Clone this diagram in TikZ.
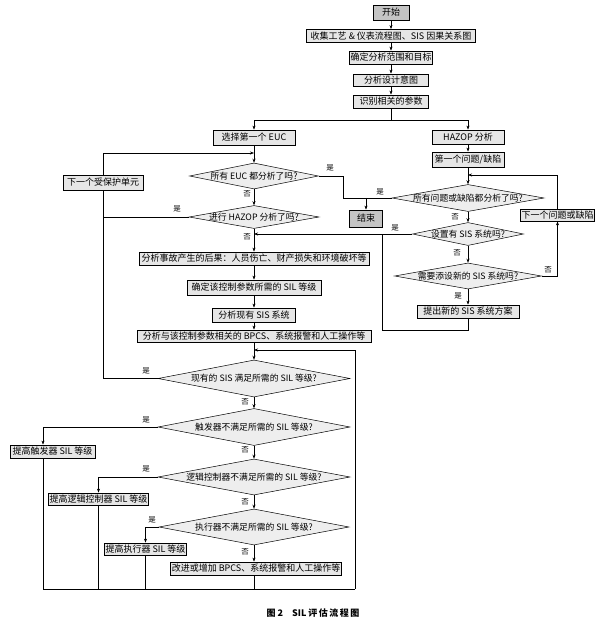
\documentclass[tikz,border=0pt]{standalone}
\usepackage{fontspec}
\setmainfont{Noto Sans CJK SC}
\usetikzlibrary{shapes.geometric, arrows.meta}
\definecolor{boxgray}{RGB}{230, 230, 230}
\definecolor{termgray}{RGB}{196, 196, 196}
\definecolor{diagray}{RGB}{238, 238, 238}

\tikzset{
  procbox/.style={draw, line width=0.8pt, fill=boxgray, inner sep=1pt, font=\fontsize{9}{10}\selectfont},
  termbox/.style={procbox, fill=termgray},
  decision/.style n args={3}{draw, diamond, line width=0.5pt, fill=diagray, inner sep=-1pt,
    minimum width=#1, minimum height=#2, aspect=#3, font=\fontsize{8.8}{10}\selectfont},
  flow/.style={-{Stealth[length=4pt, width=3pt]}, line width=0.5pt},
  link/.style={line width=0.5pt},
  yn/.style={font=\fontsize{7.5}{8}\selectfont, inner sep=0.5pt},
}

\begin{document}
\begin{tikzpicture}[x=1pt, y=-1pt]
    \useasboundingbox (0,0) rectangle (600,636);
    % Preparation
    \node[termbox, minimum width=36,  minimum height=15] (start)   at (391, 12.5) {开始};
    \node[procbox, minimum width=169, minimum height=13] (collect) at (391, 36.0) {收集工艺 \& 仪表流程图、SIS 因果关系图};
    \node[procbox, minimum width=83,  minimum height=13] (scope)   at (391, 57.5) {确定分析范围和目标};
    \node[procbox, minimum width=75,  minimum height=12] (intent)  at (391, 80.0) {分析设计意图};
    \node[procbox, minimum width=75,  minimum height=13] (param)   at (391,101.5) {识别相关的参数};
    % EUC column
    \node[procbox, minimum width=82,  minimum height=15] (euc1)    at (254,137.5) {选择第一个 EUC};
    \node[decision={129}{26}{4.96}]                     (alleuc)  at (254,176.0) {所有 EUC 都分析了吗?};
    \node[decision={130}{23}{5.65}]                     (dohaz)   at (254,217.0) {进行 HAZOP 分析了吗?};
    \node[procbox, minimum width=80,  minimum height=15] (nextunit) at (103,182.5) {下一个受保护单元};
    \node[termbox, minimum width=33,  minimum height=17] (end)     at (366,218.5) {结束};
    % HAZOP column
    \node[procbox, minimum width=72,  minimum height=14] (hazop)   at (468,137.0) {HAZOP 分析};
    \node[procbox, minimum width=72,  minimum height=15] (first)   at (468,159.5) {第一个问题/缺陷};
    \node[decision={152}{27}{5.63}]                     (allq)    at (468,198.0) {所有问题或缺陷都分析了吗?};
    \node[procbox, minimum width=71,  minimum height=12] (nextq)   at (557.5,215.0) {下一个问题或缺陷};
    \node[decision={111}{23}{4.83}]                     (hassis)  at (468,234.0) {设置有 SIS 系统吗?};
    \node[decision={147}{26}{5.65}]                     (needsis) at (468,276.0) {需要添设新的 SIS 系统吗?};
    \node[procbox, minimum width=102, minimum height=13] (newsis)  at (468,311.5) {提出新的 SIS 系统方案};
    % Consequence analysis
    \node[procbox, minimum width=230, minimum height=13] (conseq)  at (254,258.5) {分析事故产生的后果：人员伤亡、财产损失和环境破坏等};
    \node[procbox, minimum width=134, minimum height=15] (silreq)  at (254,287.5) {确定该控制参数所需的 SIL 等级};
    \node[procbox, minimum width=83,  minimum height=14] (exist)   at (254,315.0) {分析现有 SIS 系统};
    \node[procbox, minimum width=234, minimum height=12] (bpcs)    at (254,336.0) {分析与该控制参数相关的 BPCS、系统报警和人工操作等};
    % SIL checks
    \node[decision={192}{37}{5.19}]                     (meet)    at (254,378.5) {现有的 SIS 满足所需的 SIL 等级?};
    \node[decision={192}{37}{5.19}]                     (sensor)  at (254,427.0) {触发器不满足所需的 SIL 等级?};
    \node[decision={192}{36}{5.33}]                     (logic)   at (254,477.0) {逻辑控制器不满足所需的 SIL 等级?};
    \node[decision={190}{36}{5.28}]                     (actuator) at (254,527.0) {执行器不满足所需的 SIL 等级?};
    \node[procbox, minimum width=169, minimum height=13] (improve) at (256,568.5) {改进或增加 BPCS、系统报警和人工操作等};
    \node[procbox, minimum width=85,  minimum height=13] (r1)      at (52.5,451.5) {提高触发器 SIL 等级};
    \node[procbox, minimum width=99,  minimum height=12] (r2)      at (98.5,499.0) {提高逻辑控制器 SIL 等级};
    \node[procbox, minimum width=81,  minimum height=12] (r3)      at (145.5,549.0) {提高执行器 SIL 等级};
    % Junctions
    \coordinate (split)   at (391,120);
    \coordinate (eucin)   at (254,153);
    \coordinate (qin)     at (468,175);
    \coordinate (eucyes)  at (343,198);
    \coordinate (endtop)  at (366,198);
    \coordinate (sisback) at (382,330);
    \coordinate (loopin)  at (254,350);
    \coordinate (loopbl)  at (254,589);
    \coordinate (loopbr)  at (355,589);
    % Top chain
    \draw[flow] (start) -- (collect);
    \draw[flow] (collect) -- (scope);
    \draw[flow] (scope) -- (intent);
    \draw[flow] (intent) -- (param);
    \draw[link] (param) -- (split);
    \draw[flow] (split) -| (euc1);
    \draw[flow] (split) -| (hazop);
    % EUC loop
    \draw[flow] (euc1) -- (alleuc);
    \draw[flow] (alleuc) -- (dohaz);
    \draw[link] (alleuc.east) -| (eucyes) -- (endtop);
    \draw[link] (allq.west) -- (endtop);
    \draw[flow] (endtop) -- (end);
    \draw[link] (dohaz.west) -- (dohaz.west -| nextunit.south);
    \draw[link] (meet.west) -| (nextunit.south);
    \draw[flow] (nextunit.north) |- (eucin);
    \draw[flow] (dohaz) -- (conseq);
    % HAZOP loop
    \draw[flow] (hazop) -- (first);
    \draw[flow] (first) -- (allq);
    \draw[flow] (nextq.north) |- (qin);
    \draw[flow] (allq) -- (hassis);
    \draw[flow] (hassis) -- (needsis);
    \draw[flow] (needsis.east) -| (nextq.south);
    \draw[flow] (needsis) -- (newsis);
    \draw[flow] (hassis.west) -- (hassis.west -| dohaz.south);
    \draw[link] (newsis) |- (sisback) -- (sisback |- hassis.west);
    % Consequence chain
    \draw[flow] (conseq) -- (silreq);
    \draw[flow] (silreq) -- (exist);
    \draw[flow] (exist) -- (bpcs);
    \draw[flow] (bpcs) -- (meet);
    % SIL checks
    \draw[flow] (meet) -- (sensor);
    \draw[flow] (sensor) -- (logic);
    \draw[flow] (logic) -- (actuator);
    \draw[flow] (actuator) -- (actuator.south |- improve.north);
    \draw[flow] (sensor.west) -| ([xshift=-9.5pt]r1.north);
    \draw[flow] (logic.west) -| (r2.north);
    \draw[flow] (actuator.west) -| (r3.north);
    \draw[link] ([xshift=-9.5pt]r1.south) |- (loopbr);
    \draw[link] (r2.south) -- (r2.south |- loopbl);
    \draw[link] (r3.south) -- (r3.south |- loopbl);
    \draw[link] (improve.south -| loopbl) -- (loopbl);
    \draw[flow] (loopbr) -- (loopbr |- loopin) -- (loopin);
    % Yes / no labels
    \node[yn] (n1)  at (247,194) {否};
    \node[yn] (y1)  at (330,168) {是};
    \node[yn] (y2)  at (380,192) {是};
    \node[yn] (y3)  at (177,209) {是};
    \node[yn] (n2)  at (247,237) {否};
    \node[yn] (y4)  at (395,228) {是};
    \node[yn] (n3)  at (455,217) {否};
    \node[yn] (n4)  at (457,253) {否};
    \node[yn] (n5)  at (548,270) {否};
    \node[yn] (y5)  at (458,296) {是};
    \node[yn] (y6)  at (146,371) {是};
    \node[yn] (n6)  at (245,402) {否};
    \node[yn] (y7)  at (146,420) {是};
    \node[yn] (n7)  at (245,450) {否};
    \node[yn] (y8)  at (146,469) {是};
    \node[yn] (n8)  at (245,502) {否};
    \node[yn] (y9)  at (152,520) {是};
    \node[yn] (n9)  at (245,552) {否};
    % Caption
    \node[font=\bfseries\fontsize{9}{10}\selectfont] (caption) at (313,613) {图\ 2\quad SIL\ 评\,估\,流\,程\,图};
\end{tikzpicture}
\end{document}
